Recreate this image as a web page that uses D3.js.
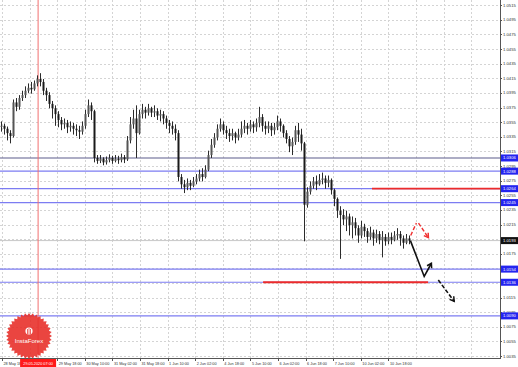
<!DOCTYPE html>
<html>
<head>
<meta charset="utf-8">
<script src="https://cdn.jsdelivr.net/npm/d3@7"></script>
<style>
  body { margin: 0; background: #fff; }
  svg { display: block; }
  text { font-family: "Liberation Sans", Arial, sans-serif; }
</style>
</head>
<body>
<div id="chart"></div>
<script>
// ---- DATA ----
// each bar: [high, low, close]; open = previous close
const firstOpen = 1.0350;
const bars = [
  [1.0356,1.0342,1.0350],[1.0353,1.0338,1.0346],[1.0349,1.0330,1.0340],[1.0344,1.0326,1.0336],
  [1.0386,1.0334,1.0382],[1.0388,1.0370,1.0376],[1.0392,1.0372,1.0388],[1.0398,1.0384,1.0392],
  [1.0404,1.0388,1.0398],[1.0408,1.0395,1.0402],[1.0410,1.0394,1.0400],[1.0412,1.0398,1.0408],
  [1.0419,1.0404,1.0414],[1.0422,1.0404,1.0410],[1.0414,1.0392,1.0398],[1.0402,1.0384,1.0392],
  [1.0396,1.0374,1.0380],[1.0384,1.0360,1.0374],[1.0378,1.0350,1.0366],[1.0370,1.0348,1.0358],
  [1.0362,1.0344,1.0352],[1.0360,1.0346,1.0354],[1.0358,1.0340,1.0348],[1.0356,1.0342,1.0350],
  [1.0354,1.0338,1.0346],[1.0352,1.0336,1.0344],[1.0350,1.0332,1.0342],[1.0356,1.0338,1.0350],
  [1.0372,1.0346,1.0366],[1.0386,1.0362,1.0378],[1.0382,1.0358,1.0370],[1.0372,1.0300,1.0306],
  [1.0310,1.0298,1.0302],[1.0310,1.0299,1.0305],[1.0307,1.0296,1.0300],[1.0308,1.0297,1.0303],
  [1.0311,1.0300,1.0306],[1.0309,1.0298,1.0302],[1.0310,1.0300,1.0305],[1.0309,1.0298,1.0303],
  [1.0312,1.0300,1.0307],[1.0310,1.0299,1.0304],[1.0336,1.0302,1.0330],[1.0362,1.0326,1.0352],
  [1.0372,1.0346,1.0360],[1.0378,1.0306,1.0340],[1.0372,1.0338,1.0366],[1.0380,1.0360,1.0372],
  [1.0376,1.0360,1.0368],[1.0380,1.0364,1.0374],[1.0376,1.0362,1.0368],[1.0378,1.0362,1.0370],
  [1.0374,1.0358,1.0364],[1.0372,1.0356,1.0366],[1.0370,1.0352,1.0360],[1.0364,1.0346,1.0354],
  [1.0358,1.0340,1.0350],[1.0356,1.0338,1.0346],[1.0352,1.0330,1.0340],[1.0344,1.0274,1.0280],
  [1.0284,1.0264,1.0270],[1.0276,1.0258,1.0266],[1.0278,1.0262,1.0272],[1.0276,1.0262,1.0268],
  [1.0280,1.0266,1.0274],[1.0284,1.0270,1.0278],[1.0290,1.0274,1.0284],[1.0292,1.0274,1.0280],
  [1.0296,1.0278,1.0290],[1.0316,1.0288,1.0310],[1.0332,1.0306,1.0324],[1.0340,1.0320,1.0334],
  [1.0352,1.0330,1.0346],[1.0360,1.0342,1.0352],[1.0356,1.0338,1.0344],[1.0350,1.0332,1.0340],
  [1.0346,1.0328,1.0336],[1.0346,1.0330,1.0340],[1.0342,1.0326,1.0334],[1.0346,1.0330,1.0338],
  [1.0356,1.0334,1.0346],[1.0358,1.0340,1.0350],[1.0354,1.0338,1.0346],[1.0358,1.0342,1.0352],
  [1.0356,1.0340,1.0348],[1.0360,1.0342,1.0354],[1.0376,1.0348,1.0362],[1.0366,1.0342,1.0350],
  [1.0356,1.0338,1.0346],[1.0356,1.0340,1.0350],[1.0354,1.0336,1.0344],[1.0354,1.0338,1.0348],
  [1.0364,1.0344,1.0356],[1.0360,1.0342,1.0350],[1.0352,1.0334,1.0340],[1.0344,1.0326,1.0332],
  [1.0336,1.0314,1.0322],[1.0334,1.0310,1.0328],[1.0350,1.0324,1.0344],[1.0354,1.0328,1.0338],
  [1.0346,1.0316,1.0326],[1.0328,1.0192,1.0242],[1.0266,1.0238,1.0260],[1.0274,1.0256,1.0268],
  [1.0280,1.0264,1.0274],[1.0282,1.0262,1.0270],[1.0284,1.0268,1.0276],[1.0286,1.0270,1.0278],
  [1.0282,1.0264,1.0272],[1.0282,1.0266,1.0276],[1.0278,1.0256,1.0262],[1.0264,1.0240,1.0250],
  [1.0252,1.0224,1.0234],[1.0240,1.0168,1.0228],[1.0236,1.0214,1.0222],[1.0234,1.0206,1.0226],
  [1.0230,1.0200,1.0214],[1.0226,1.0196,1.0218],[1.0224,1.0200,1.0210],[1.0214,1.0190,1.0200],
  [1.0220,1.0196,1.0212],[1.0216,1.0198,1.0206],[1.0210,1.0190,1.0198],[1.0212,1.0194,1.0204],
  [1.0208,1.0186,1.0196],[1.0208,1.0190,1.0202],[1.0206,1.0188,1.0194],[1.0206,1.0170,1.0198],
  [1.0202,1.0186,1.0192],[1.0204,1.0188,1.0198],[1.0204,1.0188,1.0194],[1.0206,1.0192,1.0200],
  [1.0210,1.0194,1.0202],[1.0206,1.0186,1.0196],[1.0200,1.0182,1.0190],[1.0202,1.0188,1.0196],
  [1.0200,1.0188,1.0193]
];

const priceTicks = ["1.0515","1.0495","1.0475","1.0455","1.0435","1.0415","1.0395","1.0375",
  "1.0355","1.0335","1.0315","1.0295","1.0275","1.0255","1.0235","1.0215","1.0195","1.0175",
  "1.0155","1.0135","1.0115","1.0095","1.0075","1.0055","1.0035"];

// first label is cut by the crosshair box, the second one is hidden under it
const timeLabels = ["28 May 18", "", "29 May 18:00","30 May 10:00","31 May 02:00",
  "31 May 18:00","1 Jun 10:00","2 Jun 02:00","4 Jun 18:00","5 Jun 10:00","6 Jun 02:00",
  "6 Jun 18:00","7 Jun 10:00","10 Jun 02:00","10 Jun 18:00"];

// support / resistance levels (blue), last price
const blueLevels = [1.0306, 1.0288, 1.0264, 1.0245, 1.0154, 1.0136, 1.0090];
const lastPrice = 1.0193;

// red target segments: price, from bar index, to bar index
const redLevels = [
  { price: 1.0264, from: 123.5, to: 170 },
  { price: 1.0136, from: 87.2, to: 142.2 }
];

// crosshair
const crossBar = 12.2;
const crossLabel = "29.05.2020 07:00";

// forecast arrows (bar index, price)
const blackPath = [[136.3, 1.0193], [140.9, 1.0144], [143.3, 1.0162]];
const blackDash = [[145.6, 1.0139], [150.9, 1.0110]];
const redUp = [[136.4, 1.0200], [138.3, 1.0217]];
const redDown = [[139.0, 1.0217], [142.3, 1.0197]];

// ---- CHART ----
const W = 518, H = 367;
const plotW = 500, plotH = 358;

const svg = d3.select('#chart').append('svg').attr('width', W).attr('height', H);

const x = d3.scaleLinear().domain([0, 166]).range([1.5, 499.5]);
const y = d3.scaleLinear().domain([1.00324, 1.05221]).range([plotH, 0]);
const slot = d3.scaleLinear().domain([0, 1]).range([2, 29.6]);

const grid = svg.append('g').attr('stroke', '#d4d4d4').attr('stroke-dasharray', '2,2').attr('stroke-width', 1);

// horizontal grid
grid.selectAll('.hg').data(priceTicks).enter().append('line')
  .attr('x1', 0).attr('x2', plotW)
  .attr('y1', (d) => Math.round(y(+d)) + 0.5).attr('y2', (d) => Math.round(y(+d)) + 0.5);

// vertical grid
const slots = d3.range(0, 18);
grid.selectAll('.vg').data(slots).enter().append('line')
  .attr('y1', 0).attr('y2', plotH)
  .attr('x1', (d) => Math.round(slot(d)) + 0.5).attr('x2', (d) => Math.round(slot(d)) + 0.5);

// levels
const lev = svg.append('g');
lev.selectAll('.bl').data(blueLevels).enter().append('line')
  .attr('x1', 0).attr('x2', plotW)
  .attr('y1', (d) => y(d)).attr('y2', (d) => y(d))
  .attr('stroke', (d, i) => (i === 0 ? '#5c5c8c' : '#7c7cf2'))
  .attr('stroke-width', 1.2);

lev.append('line')
  .attr('x1', 0).attr('x2', plotW)
  .attr('y1', y(lastPrice)).attr('y2', y(lastPrice))
  .attr('stroke', '#c8c8c8').attr('stroke-width', 1);

// crosshair
svg.append('line')
  .attr('x1', x(crossBar)).attr('x2', x(crossBar))
  .attr('y1', 0).attr('y2', plotH)
  .attr('stroke', '#f27070').attr('stroke-width', 1);

// candles
let prev = firstOpen;
const candles = bars.map((b, i) => {
  const c = { i: i, o: prev, h: b[0], l: b[1], c: b[2] };
  prev = b[2];
  return c;
});

const cg = svg.append('g');
cg.selectAll('.wick').data(candles).enter().append('line')
  .attr('x1', (d) => x(d.i)).attr('x2', (d) => x(d.i))
  .attr('y1', (d) => y(d.h)).attr('y2', (d) => y(d.l))
  .attr('stroke', '#2b2b2b').attr('stroke-width', 1);

cg.selectAll('.body').data(candles).enter().append('rect')
  .attr('x', (d) => x(d.i) - 1)
  .attr('width', 2)
  .attr('y', (d) => y(Math.max(d.o, d.c)))
  .attr('height', (d) => Math.max(1, Math.abs(y(d.o) - y(d.c))))
  .attr('fill', (d) => (d.c >= d.o ? '#555' : '#1a1a1a'));

// red segments
svg.selectAll('.rl').data(redLevels).enter().append('line')
  .attr('x1', (d) => x(d.from)).attr('x2', (d) => Math.min(plotW, x(d.to)))
  .attr('y1', (d) => y(d.price)).attr('y2', (d) => y(d.price))
  .attr('stroke', '#ec2b2b').attr('stroke-width', 1.8);

// arrows
const line = d3.line().x((d) => x(d[0])).y((d) => y(d[1]));

function head(g, pts, color) {
  const a = pts[pts.length - 2], b = pts[pts.length - 1];
  const x1 = x(a[0]), y1 = y(a[1]), x2 = x(b[0]), y2 = y(b[1]);
  const ang = Math.atan2(y2 - y1, x2 - x1);
  const L = 5;
  const p1 = [x2 - L * Math.cos(ang - 0.55), y2 - L * Math.sin(ang - 0.55)];
  const p2 = [x2 - L * Math.cos(ang + 0.55), y2 - L * Math.sin(ang + 0.55)];
  g.append('path')
    .attr('d', `M${p1[0]},${p1[1]}L${x2},${y2}L${p2[0]},${p2[1]}`)
    .attr('fill', 'none').attr('stroke', color).attr('stroke-width', 1.5);
}

const ag = svg.append('g');
ag.append('path').attr('d', line(blackPath))
  .attr('fill', 'none').attr('stroke', '#111').attr('stroke-width', 1.6);
head(ag, blackPath, '#111');

ag.append('path').attr('d', line(blackDash))
  .attr('fill', 'none').attr('stroke', '#111').attr('stroke-width', 1.6)
  .attr('stroke-dasharray', '4,2');
head(ag, blackDash, '#111');

ag.append('path').attr('d', line(redUp))
  .attr('fill', 'none').attr('stroke', '#f03030').attr('stroke-width', 1.4)
  .attr('stroke-dasharray', '4,2');
ag.append('path').attr('d', line(redDown))
  .attr('fill', 'none').attr('stroke', '#f03030').attr('stroke-width', 1.4)
  .attr('stroke-dasharray', '4,2');
head(ag, redDown, '#f03030');

// axes frame
svg.append('line').attr('x1', plotW + 0.5).attr('x2', plotW + 0.5).attr('y1', 0).attr('y2', plotH + 1)
  .attr('stroke', '#555');
svg.append('line').attr('x1', 0).attr('x2', plotW + 1).attr('y1', plotH + 0.5).attr('y2', plotH + 0.5)
  .attr('stroke', '#555');

// price labels
const pl = svg.append('g');
pl.selectAll('.tk').data(priceTicks).enter().append('line')
  .attr('x1', plotW).attr('x2', plotW + 2)
  .attr('y1', (d) => Math.round(y(+d)) + 0.5).attr('y2', (d) => Math.round(y(+d)) + 0.5)
  .attr('stroke', '#555');
pl.selectAll('.pt').data(priceTicks).enter().append('text')
  .attr('x', plotW + 3).attr('y', (d) => y(+d) + 1.5)
  .attr('font-size', 4.2).attr('fill', '#333')
  .text((d) => d);

// level boxes
const boxData = blueLevels.map((v) => ({ v: v, fill: '#2424f0' }))
  .concat([{ v: lastPrice, fill: '#111' }]);
const bx = svg.append('g');
bx.selectAll('rect').data(boxData).enter().append('rect')
  .attr('x', plotW + 1).attr('width', 17).attr('y', (d) => y(d.v) - 3.5).attr('height', 7)
  .attr('fill', (d) => d.fill);
bx.selectAll('text').data(boxData).enter().append('text')
  .attr('x', plotW + 3).attr('y', (d) => y(d.v) + 1.5)
  .attr('font-size', 4.2).attr('fill', '#fff')
  .text((d) => d.v.toFixed(4));

// time labels
const tl = svg.append('g');
tl.selectAll('line').data(timeLabels).enter().append('line')
  .attr('x1', (d, i) => Math.round(slot(i)) + 0.5).attr('x2', (d, i) => Math.round(slot(i)) + 0.5)
  .attr('y1', plotH).attr('y2', plotH + 3).attr('stroke', '#555');
tl.selectAll('text').data(timeLabels.filter((d) => d !== '')).enter().append('text')
  .attr('x', (d) => slot(timeLabels.indexOf(d)) + 1.5).attr('y', plotH + 6.5)
  .attr('font-size', 3.8).attr('fill', '#333')
  .text((d) => d);

// crosshair time box
svg.append('rect')
  .attr('x', x(crossBar) - 18).attr('y', plotH + 1).attr('width', 36).attr('height', 8)
  .attr('fill', '#ff1a1a');
svg.append('text')
  .attr('x', x(crossBar)).attr('y', plotH + 6.5).attr('text-anchor', 'middle')
  .attr('font-size', 3.8).attr('fill', '#fff')
  .text(crossLabel);

// InstaForex seal
const sealC = [29, 336];
const teeth = 36;
const sealPts = d3.range(teeth * 2).map((k) => {
  const r = k % 2 === 0 ? 23 : 20.5;
  const a = (Math.PI * k) / teeth;
  return [sealC[0] + r * Math.cos(a), sealC[1] + r * Math.sin(a)];
});
const seal = svg.append('g').attr('opacity', 0.9);
seal.append('path').attr('d', `M${sealPts.join('L')}Z`).attr('fill', '#e8312c');
seal.append('circle').attr('cx', sealC[0]).attr('cy', sealC[1] - 5).attr('r', 3.6).attr('fill', '#fff');
seal.append('path')
  .attr('d', `M${sealC[0] - 1.5},${sealC[1] - 7}v5M${sealC[0]},${sealC[1] - 8}v6M${sealC[0] + 1.5},${sealC[1] - 7}v5`)
  .attr('stroke', '#e8312c').attr('stroke-width', 0.8);
seal.append('text')
  .attr('x', sealC[0]).attr('y', sealC[1] + 7).attr('text-anchor', 'middle')
  .attr('font-size', 6).attr('fill', '#fff')
  .text('InstaForex');
</script>
</body>
</html>
